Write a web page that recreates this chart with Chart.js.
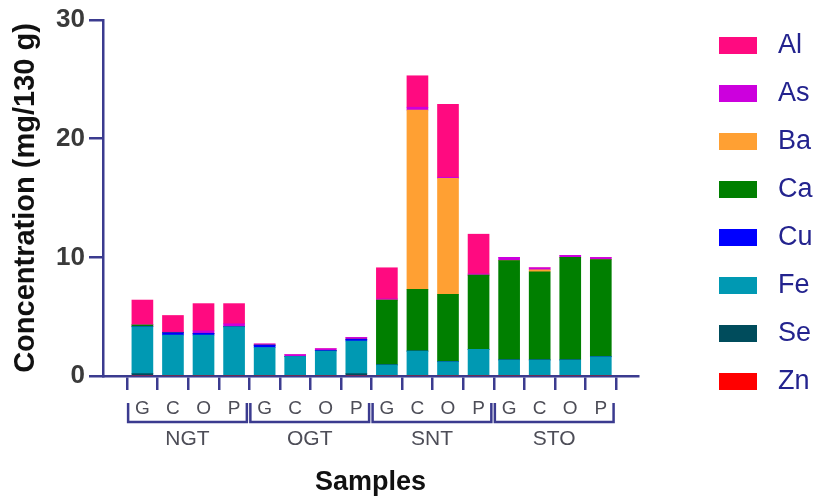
<!DOCTYPE html>
<html>
<head>
<meta charset="utf-8">
<script src="https://cdn.jsdelivr.net/npm/chart.js@4/dist/chart.umd.min.js"></script>
<style>
  body { margin: 0; background: #fff; }
  canvas { display: block; }
</style>
</head>
<body>
<canvas id="chart" width="816" height="499"></canvas>
<script>
// sample groups and the four samples in each one
const groups = ['NGT', 'OGT', 'SNT', 'STO'];
const samples = ['G', 'C', 'O', 'P'];
const yTicks = [0, 10, 20, 30];

// element concentrations (mg/130 g), order NGT G,C,O,P / OGT / SNT / STO
const zn = [0, 0, 0, 0, 0, 0, 0, 0, 0, 0, 0, 0, 0, 0, 0, 0];
const se = [0.2, 0, 0, 0, 0, 0, 0, 0.2, 0, 0, 0, 0, 0, 0, 0, 0];
const fe = [3.95, 3.45, 3.45, 4.15, 2.4, 1.65, 2.1, 2.75, 0.93, 2.1, 1.2, 2.25, 1.35, 1.35, 1.35, 1.62];
const cu = [0, 0.2, 0.15, 0, 0.2, 0, 0.05, 0.15, 0, 0, 0, 0, 0, 0, 0, 0];
const ca = [0.15, 0, 0, 0, 0, 0, 0, 0, 5.47, 5.2, 5.68, 6.25, 8.37, 7.43, 8.65, 8.2];
const ba = [0, 0, 0, 0, 0, 0, 0, 0, 0, 15.1, 9.77, 0, 0, 0.17, 0, 0];
const as = [0.05, 0.05, 0.2, 0.25, 0.1, 0.15, 0.15, 0.15, 0.1, 0.25, 0.1, 0.1, 0.28, 0.17, 0.17, 0.17];
const al = [2.05, 1.4, 2.3, 1.7, 0, 0, 0, 0, 2.62, 2.65, 6.15, 3.35, 0, 0, 0, 0];

const sampleLabels = groups.flatMap(() => samples);

const axisColor = '#3b3b8f';
const labelGray = '#4d4d57';
const fontFamily = '"Liberation Sans", Arial, sans-serif';

// stacked bottom to top
const series = [
  { label: 'Zn', data: zn, color: '#ff0000' },
  { label: 'Se', data: se, color: '#004c5c' },
  { label: 'Fe', data: fe, color: '#0099b3' },
  { label: 'Cu', data: cu, color: '#0000ff' },
  { label: 'Ca', data: ca, color: '#007f00' },
  { label: 'Ba', data: ba, color: '#ffa033' },
  { label: 'As', data: as, color: '#cc00dd' },
  { label: 'Al', data: al, color: '#ff0a80' }
];

// brackets + group names under the sample letters
const groupBrackets = {
  id: 'groupBrackets',
  afterDraw(chart) {
    const x = chart.scales.x;
    const ctx = chart.ctx;
    const lineY = x.top + 46;
    const capY = x.top + 27;
    const textY = x.top + 63;
    ctx.save();
    ctx.strokeStyle = axisColor;
    ctx.lineWidth = 2.5;
    ctx.fillStyle = labelGray;
    ctx.font = '21px ' + fontFamily;
    ctx.textAlign = 'center';
    ctx.textBaseline = 'middle';
    groups.forEach((name, g) => {
      const first = g * samples.length;
      const x0 = x.getPixelForValue(first - 0.5) + 1;
      const x1 = x.getPixelForValue(first + samples.length - 0.5) - 2.5;
      ctx.beginPath();
      ctx.moveTo(x0, capY);
      ctx.lineTo(x0, lineY);
      ctx.lineTo(x1, lineY);
      ctx.lineTo(x1, capY);
      ctx.stroke();
      ctx.fillText(name, (x0 + x1) / 2, textY);
    });
    ctx.restore();
  }
};

new Chart(document.getElementById('chart').getContext('2d'), {
  type: 'bar',
  data: {
    datasets: series.map(s => ({
      label: s.label,
      data: s.data.map((v, i) => ({ x: i, y: v })),
      backgroundColor: s.color,
      borderWidth: 0,
      barThickness: 21
    }))
  },
  options: {
    responsive: false,
    animation: false,
    layout: { padding: { top: 11, left: 0, right: 0, bottom: 0 } },
    plugins: {
      tooltip: { enabled: false },
      legend: {
        position: 'right',
        align: 'start',
        reverse: true,
        maxWidth: 118,
        labels: {
          boxWidth: 38,
          boxHeight: 17,
          padding: 21,
          color: '#23238e',
          font: { family: fontFamily, size: 27 },
          generateLabels(chart) {
            const items = Chart.defaults.plugins.legend.labels.generateLabels(chart);
            items.forEach(it => { it.text = ' ' + it.text; it.lineWidth = 0; });
            return items;
          }
        }
      }
    },
    scales: {
      x: {
        type: 'linear',
        stacked: true,
        min: -0.742,
        max: 15.67,
        grid: { drawOnChartArea: false, color: axisColor, lineWidth: 2.5, tickLength: 14 },
        border: { color: axisColor, width: 2.5 },
        ticks: {
          stepSize: 1,
          includeBounds: false,
          autoSkip: false,
          maxRotation: 0,
          padding: 7,
          color: labelGray,
          font: { family: fontFamily, size: 19 },
          callback: v => sampleLabels[v] ?? ''
        },
        title: {
          display: true,
          text: 'Samples',
          color: '#111',
          padding: { top: 0, bottom: 0 },
          font: { family: fontFamily, size: 27, weight: 'bold' }
        },
        afterFit(scale) { scale.height = 123; }
      },
      y: {
        stacked: true,
        min: 0,
        max: 30,
        grid: { drawOnChartArea: false, color: axisColor, lineWidth: 2.5, tickLength: 14 },
        border: { color: axisColor, width: 2.5 },
        afterBuildTicks(scale) { scale.ticks = yTicks.map(v => ({ value: v })); },
        ticks: {
          padding: 4,
          color: '#3a3a3a',
          font: { family: fontFamily, size: 26, weight: 'bold' }
        },
        title: {
          display: true,
          text: 'Concentration (mg/130 g)',
          color: '#111',
          padding: { top: 9, bottom: 0 },
          font: { family: fontFamily, size: 29, weight: 'bold' }
        },
        afterFit(scale) {
          scale.width = 103;
          scale.paddingTop = 20;
        }
      },
      gap: {
        type: 'linear',
        position: 'right',
        grid: { display: false },
        border: { display: false },
        ticks: { display: false },
        afterFit(scale) { scale.width = 60; }
      }
    }
  },
  plugins: [groupBrackets]
});
</script>
</body>
</html>
